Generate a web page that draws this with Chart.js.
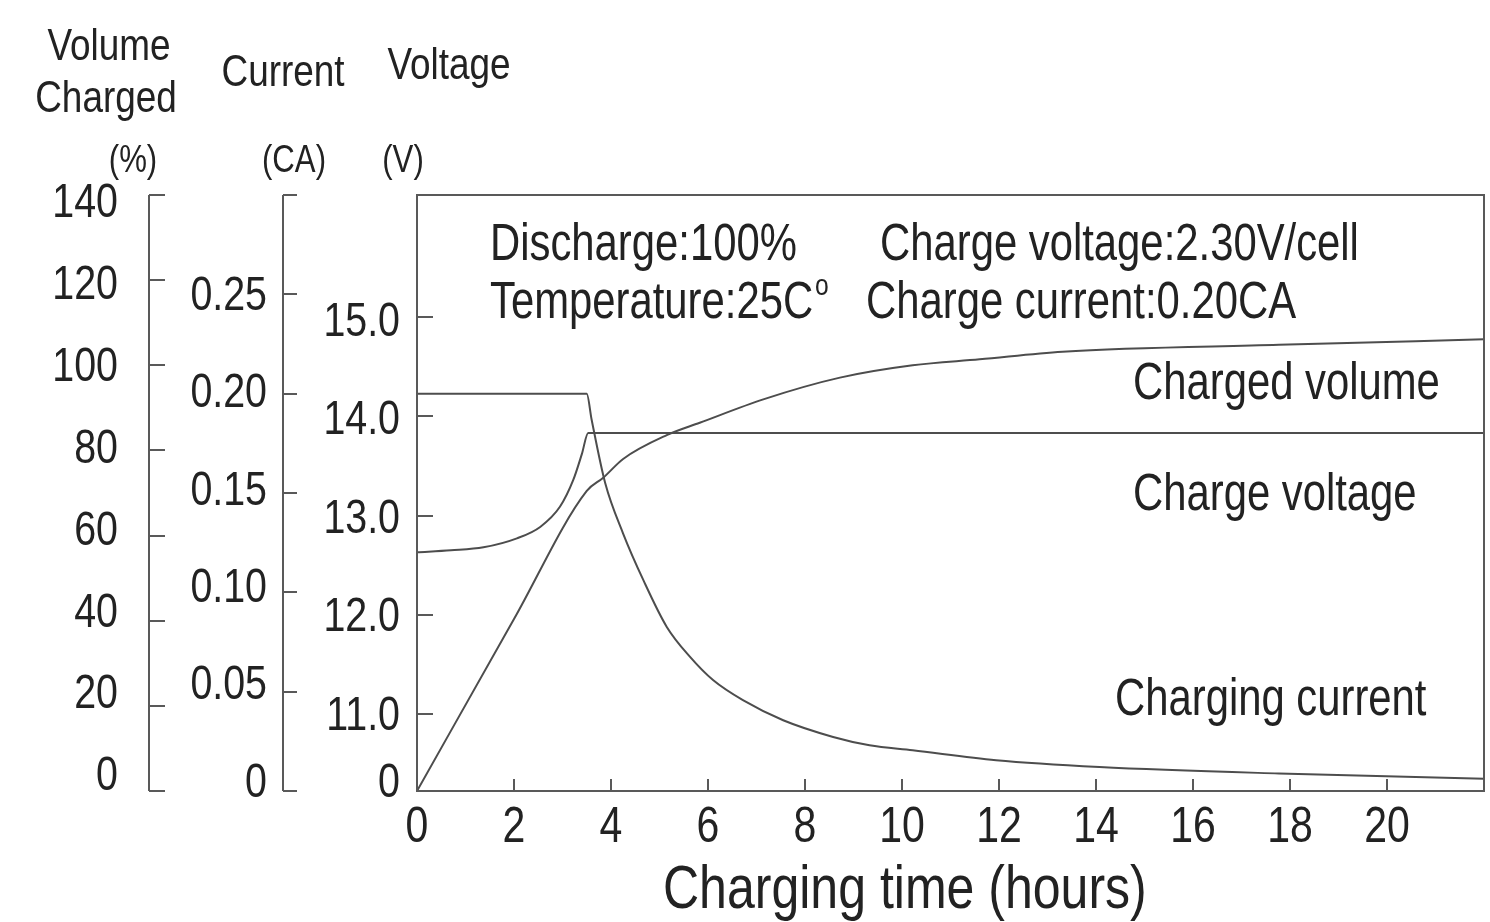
<!DOCTYPE html>
<html>
<head>
<meta charset="utf-8">
<script src="https://cdn.jsdelivr.net/npm/chart.js@4.4.1/dist/chart.umd.min.js"></script>
<style>
  html, body { margin: 0; padding: 0; background: #fff; }
</style>
</head>
<body>
<canvas id="chargeChart" width="1490" height="922"></canvas>
<script>
/* ================= DATA ================= */
// charged volume (%)
const volumeHours = [0, 2.0, 3.5, 3.84, 4.25, 5.15, 5.83, 7.14, 8.72, 10.22, 11.6, 13.31, 17.77, 22];
const volumeValues = [0, 40.4, 70.5, 73.6, 78, 83.6, 86.5, 92, 97.1, 100, 101.4, 103.2, 104.8, 106.1];

// charging current (CA)
const currentHours = [0, 3.5, 3.6, 3.88, 4.25, 4.67, 5.15, 5.63, 6.11, 6.72, 7.55, 8.58, 9.33, 10.22, 11.94, 14.07, 17.77, 22];
const currentValues = [0.20, 0.20, 0.187, 0.155, 0.1296, 0.106, 0.0826, 0.0675, 0.0557, 0.0457, 0.0356, 0.0272, 0.023, 0.0205, 0.0155, 0.0121, 0.0088, 0.0062];

// charge voltage (V)
const voltageHours = [0, 0.7, 1.37, 2.06, 2.54, 2.95, 3.22, 3.40, 3.53, 22];
const voltageValues = [12.63, 12.65, 12.68, 12.77, 12.885, 13.09, 13.355, 13.62, 13.83, 13.83];

// ticks
const xTicks = [0, 2, 4, 6, 8, 10, 12, 14, 16, 18, 20];
const volumeTicks = [0, 20, 40, 60, 80, 100, 120, 140];
const currentTicks = [0, 0.05, 0.10, 0.15, 0.20, 0.25, 0.30];
const currentLabels = ["0", "0.05", "0.10", "0.15", "0.20", "0.25", ""];
const voltageTicks = [11, 12, 13, 14, 15];
const voltageLabels = ["11.0", "12.0", "13.0", "14.0", "15.0"];
const voltageBreak = 10.228;   // bottom of the broken voltage axis, labelled "0"
const voltageTop = 16.225;
const voltageZeroAt = 10.324;  // where the "0" sits on the label axis

/* ================= STYLE ================= */
// no Arial Narrow here: Liberation Sans squeezed to 82% gives the same shapes
const FONT = "'Liberation Sans', Arial, sans-serif";
const NARROW = 0.82;
const INK = "#222222";
const LINE = "#595959";

function pts(xs, ys) {
    return xs.map((x, i) => ({ x: x, y: ys[i] }));
}

function series(label, xs, ys, axis) {
    return {
        label: label,
        data: pts(xs, ys),
        yAxisID: axis,
        borderColor: "#4d4d4d",
        borderWidth: 2,
        pointRadius: 0,
        cubicInterpolationMode: "monotone",
        fill: false
    };
}

function narrowText(ctx, text, x, y, align) {
    ctx.save();
    ctx.translate(x, y);
    ctx.scale(NARROW, 1);
    ctx.textAlign = align;
    ctx.fillText(text, 0, 0);
    ctx.restore();
}

// plain box for the label axes: no marks of its own
function labelAxis(weight, min, max, width) {
    return {
        position: "left", weight: weight, min: min, max: max,
        afterFit: s => { s.width = width; },
        grid: { display: false, drawTicks: false },
        border: { display: false },
        ticks: { display: false }
    };
}

/* ================= FRAME + TEXT ================= */
const framePlugin = {
    id: "frame",
    afterDraw(chart) {
        const { ctx, chartArea: a, scales } = chart;
        ctx.save();
        ctx.strokeStyle = LINE;
        ctx.lineWidth = 2;
        ctx.strokeRect(a.left, a.top, a.right - a.left, a.bottom - a.top);

        ctx.beginPath();
        // x ticks point up into the plot
        xTicks.forEach(h => {
            const x = Math.round(scales.x.getPixelForValue(h));
            ctx.moveTo(x, a.bottom);
            ctx.lineTo(x, a.bottom - 12);
        });
        // voltage ticks on the plot border
        voltageTicks.forEach(v => {
            const y = Math.round(scales.yVolt.getPixelForValue(v));
            ctx.moveTo(a.left, y);
            ctx.lineTo(a.left + 16, y);
        });
        // separate volume / current axes
        [[scales.lVol, scales.yVol, volumeTicks, 16], [scales.lCur, scales.yCur, currentTicks, 14]].forEach(([lab, data, ticks, len]) => {
            const x = lab.right;
            ctx.moveTo(x, a.top);
            ctx.lineTo(x, a.bottom);
            ticks.forEach(v => {
                const y = Math.round(data.getPixelForValue(v));
                ctx.moveTo(x, y);
                ctx.lineTo(x + len, y);
            });
        });
        ctx.stroke();

        ctx.fillStyle = INK;

        // tick labels
        ctx.textBaseline = "middle";
        ctx.font = "48px " + FONT;
        volumeTicks.forEach(v => {
            narrowText(ctx, String(v), scales.lVol.right - 31, scales.lVol.getPixelForValue(v), "right");
        });
        currentTicks.forEach((v, i) => {
            narrowText(ctx, currentLabels[i], scales.lCur.right - 16, scales.lCur.getPixelForValue(v), "right");
        });
        narrowText(ctx, "0", scales.lVolt.right - 17, scales.lVolt.getPixelForValue(voltageZeroAt), "right");
        voltageTicks.forEach((v, i) => {
            narrowText(ctx, voltageLabels[i], scales.lVolt.right - 17, scales.lVolt.getPixelForValue(v), "right");
        });
        ctx.textBaseline = "alphabetic";
        ctx.font = "50px " + FONT;
        xTicks.forEach(h => {
            narrowText(ctx, String(h), scales.x.getPixelForValue(h), a.bottom + 51, "center");
        });

        // axis titles
        ctx.font = "45px " + FONT;
        narrowText(ctx, "Volume", 109, 60, "center");
        narrowText(ctx, "Charged", 106, 112, "center");
        narrowText(ctx, "Current", 283, 86, "center");
        narrowText(ctx, "Voltage", 449, 79, "center");
        ctx.font = "38px " + FONT;
        narrowText(ctx, "(%)", 133, 172, "center");
        narrowText(ctx, "(CA)", 294, 172, "center");
        narrowText(ctx, "(V)", 403, 172, "center");

        // x title
        ctx.font = "61px " + FONT;
        narrowText(ctx, "Charging time (hours)", 663, 908, "left");

        // test conditions
        ctx.font = "51px " + FONT;
        narrowText(ctx, "Discharge:100%", 490, 260, "left");
        narrowText(ctx, "Charge voltage:2.30V/cell", 880, 260, "left");
        narrowText(ctx, "Temperature:25C", 490, 318, "left");
        const tw = ctx.measureText("Temperature:25C").width * NARROW;
        narrowText(ctx, "Charge current:0.20CA", 866, 318, "left");
        ctx.font = "30px " + FONT;
        narrowText(ctx, "o", 490 + tw + 2, 295, "left");

        // curve labels
        ctx.font = "51px " + FONT;
        narrowText(ctx, "Charged volume", 1133, 399, "left");
        narrowText(ctx, "Charge voltage", 1133, 510, "left");
        narrowText(ctx, "Charging current", 1115, 715, "left");
        ctx.restore();
    }
};

/* ================= CHART ================= */
new Chart(document.getElementById("chargeChart"), {
    type: "line",
    data: {
        datasets: [
            series("Charged volume", volumeHours, volumeValues, "yVol"),
            series("Charging current", currentHours, currentValues, "yCur"),
            series("Charge voltage", voltageHours, voltageValues, "yVolt")
        ]
    },
    options: {
        responsive: false,
        animation: false,
        layout: { padding: { top: 195, right: 6, bottom: 0, left: 0 } },
        plugins: { legend: { display: false }, tooltip: { enabled: false } },
        scales: {
            x: {
                type: "linear",
                min: 0,
                max: 22,
                afterFit: s => { s.height = 131; },
                grid: { display: false, drawTicks: false },
                border: { display: false },
                ticks: { display: false }
            },
            // data axes (hidden, share the plot height)
            yVol: { display: false, min: 0, max: 140 },
            yCur: { display: false, min: 0, max: 0.30 },
            yVolt: { display: false, min: voltageBreak, max: voltageTop },
            // label axes: the original prints its numbers a little off their ticks
            lVol: labelAxis(3, -3.42, 142.2, 149),
            lCur: labelAxis(2, -0.00396, 0.3023, 134),
            lVolt: labelAxis(1, 10.246, 16.294, 134)
        }
    },
    plugins: [framePlugin]
});
</script>
</body>
</html>
